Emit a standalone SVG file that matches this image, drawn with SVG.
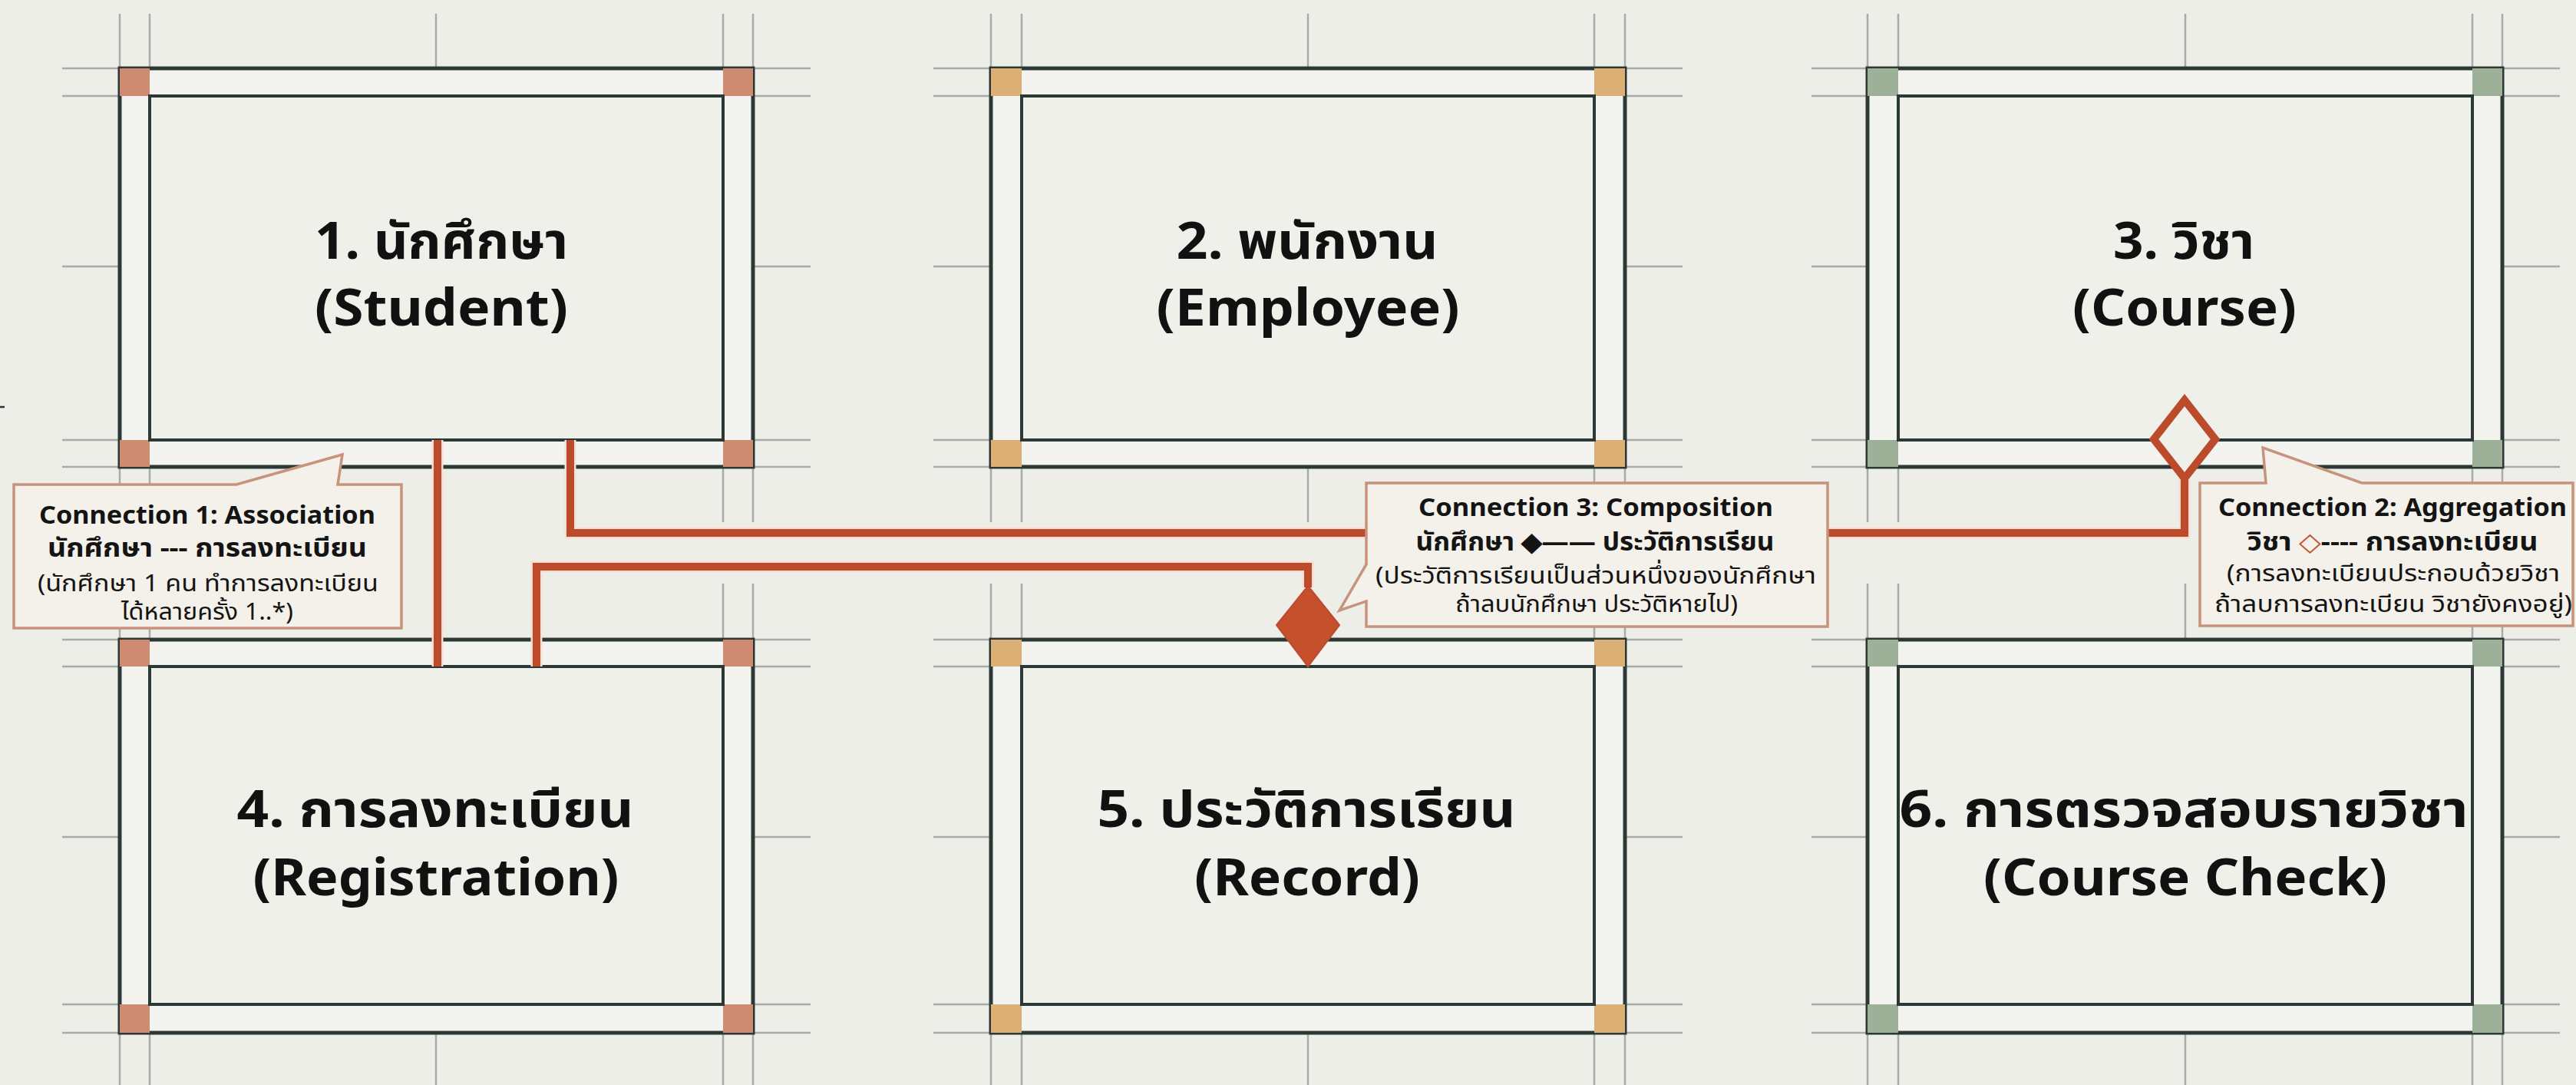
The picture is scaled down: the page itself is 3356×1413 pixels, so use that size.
<svg xmlns="http://www.w3.org/2000/svg" width="3356" height="1413" viewBox="0 0 3356 1413">
  <style>
    .bg { fill: #eeeee9; }
    .grid { stroke: #a9aba8; stroke-width: 2.5; fill: none; }
    .outer { fill: #f3f3ef; stroke: #2c3835; stroke-width: 5; }
    .inner { fill: #f0f0eb; stroke: #2c3835; stroke-width: 4; }
    .c-red { fill: #cf8a72; }
    .c-tan { fill: #dcb074; }
    .c-sage { fill: #9db098; }
    .label { font-family: "Noto Sans", "Noto Sans Thai", "Loma", "Garuda", sans-serif; font-weight: 700; font-size: 66px; fill: #111; text-anchor: middle; }
    .conn { stroke: #bb4b2b; stroke-width: 10; fill: none; stroke-linejoin: miter; }
    .halo { stroke: #f7ddd2; stroke-width: 15; fill: none; }
    .callout { fill: #f4f1ea; stroke: #c8937d; stroke-width: 3.5; stroke-linejoin: miter; }
    .ct { font-family: "Noto Sans", "Noto Sans Thai", "Loma", "Garuda", sans-serif; font-weight: 700; font-size: 33px; fill: #141414; text-anchor: middle; }
    .cs { font-family: "Noto Sans", "Noto Sans Thai", "Loma", "Garuda", sans-serif; font-weight: 400; font-size: 31px; fill: #141414; text-anchor: middle; }
  </style>

  <rect class="bg" x="0" y="0" width="3356" height="1413"/>
  <line x1="0" y1="530" x2="6" y2="530" stroke="#333" stroke-width="2.5"/>

  <!-- Row 1: y outer 89..608, inner 125..573, mid 347 -->
  <g id="node-student">
    <path class="grid" d="M81 89H1056M81 125H1056M81 573H1056M81 608H1056M81 347H156M981 347H1056M156 18V680M195 18V680M942 18V680M981 18V680M568 18V89M568 608V680"/>
    <rect class="outer" x="156" y="89" width="825" height="519"/>
    <rect class="c-red" x="156" y="89" width="39" height="36"/>
    <rect class="c-red" x="942" y="89" width="39" height="36"/>
    <rect class="c-red" x="156" y="573" width="39" height="35"/>
    <rect class="c-red" x="942" y="573" width="39" height="35"/>
    <rect class="inner" x="195" y="125" width="747" height="448"/>
    <text class="label" x="575" y="337" textLength="330" lengthAdjust="spacingAndGlyphs">1. นักศึกษา</text>
    <text class="label" x="575" y="424" textLength="330" lengthAdjust="spacingAndGlyphs">(Student)</text>
  </g>

  <g id="node-employee">
    <path class="grid" d="M1216 89H2192M1216 125H2192M1216 573H2192M1216 608H2192M1216 347H1291M2117 347H2192M1291 18V680M1331 18V680M2077 18V680M2117 18V680M1704 18V89M1704 608V680"/>
    <rect class="outer" x="1291" y="89" width="826" height="519"/>
    <rect class="c-tan" x="1291" y="89" width="40" height="36"/>
    <rect class="c-tan" x="2077" y="89" width="40" height="36"/>
    <rect class="c-tan" x="1291" y="573" width="40" height="35"/>
    <rect class="c-tan" x="2077" y="573" width="40" height="35"/>
    <rect class="inner" x="1331" y="125" width="746" height="448"/>
    <text class="label" x="1703" y="337" textLength="341" lengthAdjust="spacingAndGlyphs">2. พนักงาน</text>
    <text class="label" x="1704" y="424" textLength="395" lengthAdjust="spacingAndGlyphs">(Employee)</text>
  </g>

  <g id="node-course">
    <path class="grid" d="M2360 89H3335M2360 125H3335M2360 573H3335M2360 608H3335M2360 347H2433M3260 347H3335M2433 18V680M2473 18V680M3221 18V680M3260 18V680M2847 18V89M2847 608V680"/>
    <rect class="outer" x="2433" y="89" width="827" height="519"/>
    <rect class="c-sage" x="2433" y="89" width="40" height="36"/>
    <rect class="c-sage" x="3221" y="89" width="39" height="36"/>
    <rect class="c-sage" x="2433" y="573" width="40" height="35"/>
    <rect class="c-sage" x="3221" y="573" width="39" height="35"/>
    <rect class="inner" x="2473" y="125" width="748" height="448"/>
    <text class="label" x="2845" y="337" textLength="184" lengthAdjust="spacingAndGlyphs">3. วิชา</text>
    <text class="label" x="2846" y="424" textLength="292" lengthAdjust="spacingAndGlyphs">(Course)</text>
  </g>

  <!-- Row 2: y outer 833..1345, inner 868..1308, mid 1090 -->
  <g id="node-registration">
    <path class="grid" d="M81 833H1056M81 868H1056M81 1308H1056M81 1345H1056M81 1090H156M981 1090H1056M156 760V1413M195 760V1413M942 760V1413M981 760V1413M568 760V833M568 1345V1413"/>
    <rect class="outer" x="156" y="833" width="825" height="512"/>
    <rect class="c-red" x="156" y="833" width="39" height="35"/>
    <rect class="c-red" x="942" y="833" width="39" height="35"/>
    <rect class="c-red" x="156" y="1308" width="39" height="37"/>
    <rect class="c-red" x="942" y="1308" width="39" height="37"/>
    <rect class="inner" x="195" y="868" width="747" height="440"/>
    <text class="label" x="567" y="1077" textLength="517" lengthAdjust="spacingAndGlyphs">4. การลงทะเบียน</text>
    <text class="label" x="568" y="1166" textLength="477" lengthAdjust="spacingAndGlyphs">(Registration)</text>
  </g>

  <g id="node-record">
    <path class="grid" d="M1216 833H2192M1216 868H2192M1216 1308H2192M1216 1345H2192M1216 1090H1291M2117 1090H2192M1291 760V1413M1331 760V1413M2077 760V1413M2117 760V1413M1704 760V833M1704 1345V1413"/>
    <rect class="outer" x="1291" y="833" width="826" height="512"/>
    <rect class="c-tan" x="1291" y="833" width="40" height="35"/>
    <rect class="c-tan" x="2077" y="833" width="40" height="35"/>
    <rect class="c-tan" x="1291" y="1308" width="40" height="37"/>
    <rect class="c-tan" x="2077" y="1308" width="40" height="37"/>
    <rect class="inner" x="1331" y="868" width="746" height="440"/>
    <text class="label" x="1702" y="1077" textLength="545" lengthAdjust="spacingAndGlyphs">5. ประวัติการเรียน</text>
    <text class="label" x="1703" y="1166" textLength="294" lengthAdjust="spacingAndGlyphs">(Record)</text>
  </g>

  <g id="node-course-check">
    <path class="grid" d="M2360 833H3335M2360 868H3335M2360 1308H3335M2360 1345H3335M2360 1090H2433M3260 1090H3335M2433 760V1413M2473 760V1413M3221 760V1413M3260 760V1413M2847 760V833M2847 1345V1413"/>
    <rect class="outer" x="2433" y="833" width="827" height="512"/>
    <rect class="c-sage" x="2433" y="833" width="40" height="35"/>
    <rect class="c-sage" x="3221" y="833" width="39" height="35"/>
    <rect class="c-sage" x="2433" y="1308" width="40" height="37"/>
    <rect class="c-sage" x="3221" y="1308" width="39" height="37"/>
    <rect class="inner" x="2473" y="868" width="748" height="440"/>
    <text class="label" x="2845" y="1077" textLength="741" lengthAdjust="spacingAndGlyphs">6. การตรวจสอบรายวิชา</text>
    <text class="label" x="2847" y="1166" textLength="526" lengthAdjust="spacingAndGlyphs">(Course Check)</text>
  </g>

  <!-- Relationship lines between the classes -->
  <g id="connectors">
    <path class="halo" d="M570 573V868M743 573V694H2846V623M699 868V738H1704V765"/>
    <path class="conn" d="M570 573V868"/>
    <path class="conn" d="M743 573V694H2846V623"/>
    <path class="conn" d="M699 868V738H1704V765"/>
    <!-- hollow diamond: aggregation end at Course -->
    <polygon points="2846,521 2886,572 2846,623 2806,572" fill="#f0f0eb" stroke="#bb4b2b" stroke-width="10" stroke-linejoin="miter"/>
    <!-- filled diamond: composition end at Record -->
    <polygon points="1704,763 1745,814 1704,868 1663,814" fill="#c64f2c" stroke="#bb4b2b" stroke-width="2"/>
  </g>

  <!-- Notes describing each relationship -->
  <g id="note-association">
    <path class="callout" d="M18 631H308L446 592L440 631H523V818H18Z"/>
    <text class="ct" x="270" y="682" textLength="438" lengthAdjust="spacingAndGlyphs">Connection 1: Association</text>
    <text class="ct" x="270" y="725" textLength="416" lengthAdjust="spacingAndGlyphs">นักศึกษา --- การลงทะเบียน</text>
    <text class="cs" x="271" y="770" textLength="444" lengthAdjust="spacingAndGlyphs">(นักศึกษา 1 คน ทำการลงทะเบียน</text>
    <text class="cs" x="270" y="807" textLength="224" lengthAdjust="spacingAndGlyphs">ได้หลายครั้ง 1..*)</text>
  </g>

  <g id="note-composition">
    <path class="callout" d="M1780 629H2381V816H1780V783L1745 795L1780 735Z"/>
    <text class="ct" x="2079" y="672" textLength="462" lengthAdjust="spacingAndGlyphs">Connection 3: Composition</text>
    <text class="ct" x="2078" y="717" textLength="467" lengthAdjust="spacingAndGlyphs">นักศึกษา ◆—— ประวัติการเรียน</text>
    <text class="cs" x="2079" y="760" textLength="574" lengthAdjust="spacingAndGlyphs">(ประวัติการเรียนเป็นส่วนหนึ่งของนักศึกษา</text>
    <text class="cs" x="2080" y="797" textLength="368" lengthAdjust="spacingAndGlyphs">ถ้าลบนักศึกษา ประวัติหายไป)</text>
  </g>

  <g id="note-aggregation">
    <path class="callout" d="M2866 629H2952L2948 583L3077 629H3352V815H2866Z"/>
    <text class="ct" x="3117" y="672" textLength="454" lengthAdjust="spacingAndGlyphs">Connection 2: Aggregation</text>
    <text class="ct" x="3117" y="717" textLength="379" lengthAdjust="spacingAndGlyphs">วิชา <tspan fill="#c0562f" font-weight="400">◇</tspan>---- การลงทะเบียน</text>
    <text class="cs" x="3118" y="757" textLength="434" lengthAdjust="spacingAndGlyphs">(การลงทะเบียนประกอบด้วยวิชา</text>
    <text class="cs" x="3118" y="797" textLength="466" lengthAdjust="spacingAndGlyphs">ถ้าลบการลงทะเบียน วิชายังคงอยู่)</text>
  </g>
</svg>
